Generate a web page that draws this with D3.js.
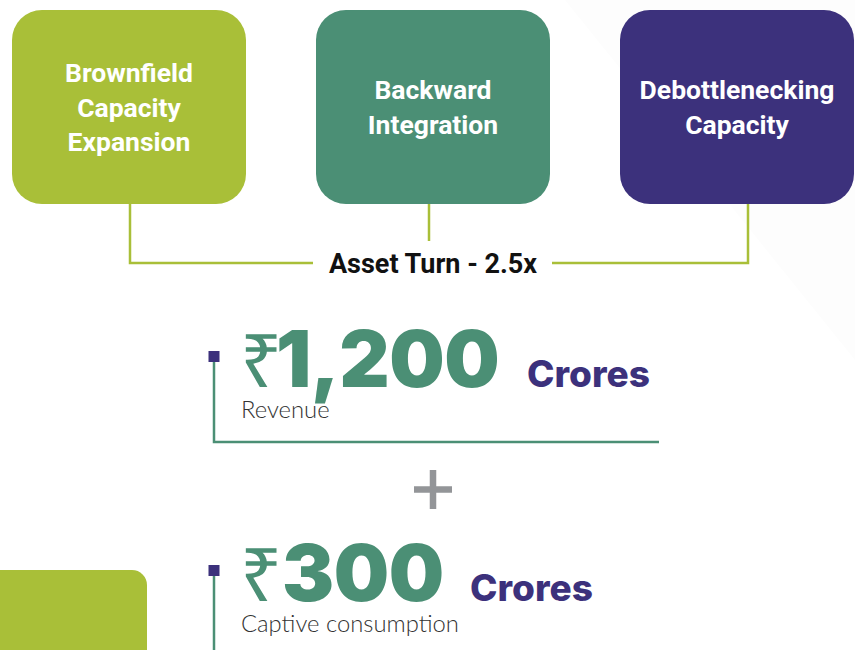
<!DOCTYPE html>
<html><head><meta charset="utf-8">
<script src="https://cdn.jsdelivr.net/npm/d3@7"></script>
<style>html,body{margin:0;padding:0;background:#fff;overflow:hidden}</style>
</head><body>
<svg id="c" width="855" height="650"></svg>
<script>
// ---- data ----
const boxLabels = ["Brownfield Capacity Expansion", "Backward Integration", "Debottlenecking Capacity"];
const boxLines = [["Brownfield", "Capacity", "Expansion"], ["Backward", "Integration"], ["Debottlenecking", "Capacity"]];
const boxColors = ["#a9bf38", "#4b8f75", "#3c317c"];
const assetTurnLabel = "Asset Turn - 2.5x";
const metricValues = [1200, 300];
const metricLabels = ["Revenue", "Captive consumption"];
const metricUnit = "Crores";

const svg = d3.select("#c");
// faint background shape
svg.append("path").attr("d", "M565,0 L855,0 L855,360 Z").attr("fill", "#fdfdfd");

const x = d3.scaleBand().domain(boxLabels).range([12, 854]).paddingInner(70 / 304).paddingOuter(0);
const boxTop = 10, boxH = 194;
const lime = "#a9bf38", green = "#4b8f75", purple = "#3c317c";

const g = svg.selectAll("g.box").data(boxLabels).join("g").attr("class", "box");
g.append("rect")
  .attr("x", d => x(d)).attr("y", boxTop).attr("width", x.bandwidth()).attr("height", boxH)
  .attr("rx", 30).attr("fill", (d, i) => boxColors[i]);
g.each(function(d, i) {
  const lines = boxLines[i];
  const cx = x(d) + x.bandwidth() / 2;
  const lh = 34.5;
  const cy = boxTop + boxH / 2;
  const t = d3.select(this).append("text")
    .attr("text-anchor", "middle").attr("fill", "#fff")
    .style("font-family", "Roboto").style("font-weight", 700).style("font-size", "26.5px");
  lines.forEach((ln, j) => {
    t.append("tspan").attr("x", cx).attr("y", cy + (j - (lines.length - 1) / 2) * lh + 9.5).text(ln);
  });
});

// connectors
const c1 = x(boxLabels[0]) + x.bandwidth() / 2 + 1;
const c2 = x(boxLabels[1]) + x.bandwidth() / 2 - 4;
const c3 = x(boxLabels[2]) + x.bandwidth() / 2 + 11;
const ly = 263;
const conn = svg.append("g").attr("stroke", lime).attr("stroke-width", 2.5).attr("fill", "none");
conn.append("path").attr("d", `M${c1},${boxTop + boxH} V${ly} H313`);
conn.append("path").attr("d", `M552,${ly} H${c3} V${boxTop + boxH}`);
conn.append("path").attr("d", `M${c2},${boxTop + boxH} V241`);
svg.append("text").attr("x", 433).attr("y", 273).attr("text-anchor", "middle")
  .style("font-family", "Roboto").style("font-weight", 700).style("font-size", "27px")
  .attr("fill", "#111").text(assetTurnLabel);

// metrics
const fmt = d3.format(",");
const tops = [351, 565];
const crX = [527, 470];
const numX = [276, 282];
const lineBottom = [442, 650];
metricValues.forEach((v, i) => {
  const top = tops[i];
  const base = top + 36;
  svg.append("path").attr("d", `M214,${top + 11} V${lineBottom[i]}` + (i === 0 ? " H659" : ""))
    .attr("stroke", green).attr("stroke-width", 2.5).attr("fill", "none");
  svg.append("rect").attr("x", 208.5).attr("y", top).attr("width", 11).attr("height", 11).attr("fill", purple);
  svg.append("text").attr("x", 240).attr("y", base).attr("fill", green)
    .style("font-family", "Noto Sans").style("font-weight", 400).style("font-size", "74px").text("\u20B9");
  svg.append("text").attr("x", numX[i]).attr("y", base).attr("fill", green)
    .style("font-family", "Inter").style("font-weight", 900).style("font-size", "78px")
    .style("letter-spacing", "-0.5px").text(fmt(v));
  svg.append("text").attr("x", crX[i]).attr("y", base).attr("fill", purple)
    .style("font-family", "Inter").style("font-weight", 800).style("font-size", "37px").text(metricUnit);
  svg.append("text").attr("x", 241).attr("y", base + 31).attr("fill", "#333")
    .style("font-family", "Lato").style("font-weight", 300).style("font-size", "23.8px").text(metricLabels[i]);
});

// plus sign
svg.append("path").attr("d", "M433,470 V509 M414,489.5 H452").attr("stroke", "#939598").attr("stroke-width", 6.5);

// bottom-left box
svg.append("rect").attr("x", -20).attr("y", 570).attr("width", 167).attr("height", 120).attr("rx", 15).attr("fill", lime);
</script>
</body></html>
